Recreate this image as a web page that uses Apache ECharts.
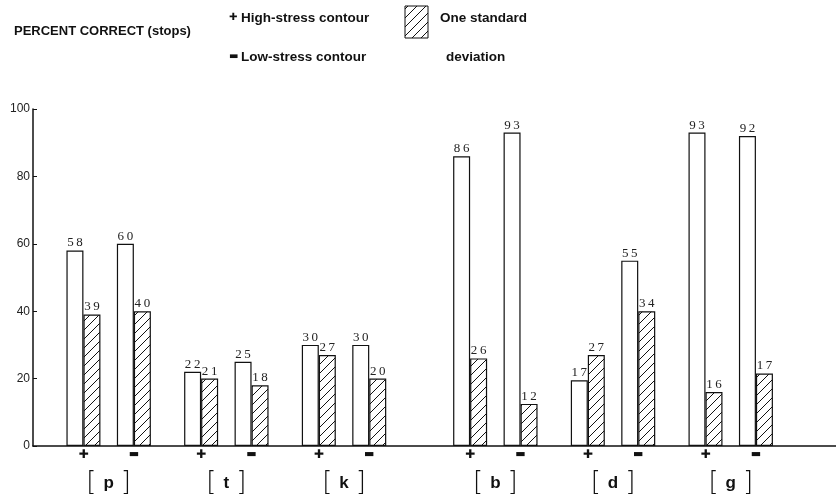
<!DOCTYPE html>
<html>
<head>
<meta charset="utf-8">
<script src="https://cdn.jsdelivr.net/npm/echarts@6/dist/echarts.min.js"></script>
<style>
html, body { margin: 0; padding: 0; background: #fff; }
#chart { width: 836px; height: 494px; }
</style>
</head>
<body>
<div id="chart"></div>
<script>
// bar positions on the x scale (one slot = half a pair of bars)
var stops = ['p', 't', 'k', 'b', 'd', 'g'];
var groupPos = [1.5, 8.5, 15.5, 24.5, 31.5, 38.5];
var plusPos = [0, 7, 14, 23, 30, 37];
var minusPos = [3, 10, 17, 26, 33, 40];
var barPos = [0, 3, 7, 10, 14, 17, 23, 26, 30, 33, 37, 40];

// percent correct (white bars), as drawn and as printed
var correct = [58, 60, 22, 25, 30, 30, 86, 93, 19.5, 55, 93, 92];
var correctText = ['58', '60', '22', '25', '30', '30', '86', '93', '17', '55', '93', '92'];
// one standard deviation (hatched bars), as drawn and as printed
var stdev = [39, 40, 20, 18, 27, 20, 26, 12.5, 27, 40, 16, 21.5];
var stdevText = ['39', '40', '21', '18', '27', '20', '26', '12', '27', '34', '16', '17'];

var yTicks = [0, 20, 40, 60, 80, 100];

// hatch tile
var tile = document.createElement('canvas');
tile.width = 9; tile.height = 9;
var c = tile.getContext('2d');
c.fillStyle = '#fff';
c.fillRect(0, 0, 9, 9);
c.strokeStyle = '#111';
c.lineWidth = 1;
c.beginPath();
c.moveTo(0, 9); c.lineTo(9, 0);
c.moveTo(-1, 1); c.lineTo(1, -1);
c.moveTo(8, 10); c.lineTo(10, 8);
c.stroke();
var hatch = { image: tile, repeat: 'repeat' };

function near(list, v) {
    for (var i = 0; i < list.length; i++) {
        if (Math.abs(list[i] - v) < 0.01) return i;
    }
    return -1;
}

function spaced(s) {
    return s.split('').join('\u2009');
}

var myChart = echarts.init(document.getElementById('chart'));

var boldFont = '"Liberation Sans", Arial, sans-serif';

option = {
    backgroundColor: '#fff',
    animation: false,
    grid: { left: 33, right: -4, top: 109, bottom: 48, containLabel: false, outerBoundsMode: 'none' },
    xAxis: [
        {
            type: 'value',
            min: -3, max: 45, interval: 1,
            position: 'bottom',
            splitLine: { show: false },
            axisTick: { show: false },
            axisLine: { show: true, onZero: false, lineStyle: { color: '#111', width: 1.5 } },
            axisLabel: {
                margin: 2,
                showMinLabel: true, showMaxLabel: true,
                formatter: function (v) {
                    if (near(plusPos, v) >= 0) return '{p|✚}';
                    if (near(minusPos, v) >= 0) return '{m|▬}';
                    return '';
                },
                rich: {
                    p: { fontFamily: '"DejaVu Sans"', fontSize: 12, color: '#111', lineHeight: 14 },
                    m: { fontFamily: '"DejaVu Sans"', fontSize: 11, color: '#111', lineHeight: 12 }
                }
            }
        },
        {
            type: 'value',
            min: -3, max: 45, interval: 0.5,
            position: 'bottom',
            splitLine: { show: false },
            axisTick: { show: false },
            axisLine: { show: false, onZero: false },
            axisLabel: {
                margin: 23,
                formatter: function (v) {
                    var i = near(groupPos, v);
                    if (i < 0) return '';
                    return '{b|[}{l|' + stops[i] + '}{b|]}';
                },
                rich: {
                    b: { fontFamily: '"DejaVu Sans"', fontWeight: 200, fontSize: 26, color: '#111', lineHeight: 28 },
                    l: { fontFamily: boldFont, fontWeight: 'bold', fontSize: 17, color: '#111', padding: [0, 7, 0, 7], lineHeight: 28 }
                }
            }
        }
    ],
    yAxis: {
        type: 'value',
        min: 0, max: 100, interval: 20,
        splitLine: { show: false },
        axisLine: { show: true, onZero: false, lineStyle: { color: '#111', width: 1.5 } },
        axisTick: { show: true, inside: true, length: 4, lineStyle: { color: '#111' } },
        axisLabel: {
            margin: 3,
            color: '#222',
            fontFamily: '"Liberation Sans", Arial, sans-serif',
            fontSize: 12,
            formatter: function (v) { return yTicks.indexOf(v) >= 0 ? String(v) : ''; }
        }
    },
    series: [
        {
            name: 'correct',
            type: 'bar',
            barWidth: 17,
            barGap: '0%',
            data: barPos.map(function (x, i) { return [x, correct[i]]; }),
            itemStyle: { color: '#fff', borderColor: '#111', borderWidth: 1.2 },
            label: {
                show: true, position: 'top', distance: 1,
                fontFamily: '"Liberation Serif", serif', fontSize: 13, color: '#222',
                formatter: function (p) { return spaced(correctText[p.dataIndex]); }
            }
        },
        {
            name: 'stdev',
            type: 'bar',
            barWidth: 17,
            barGap: '0%',
            data: barPos.map(function (x, i) { return [x, stdev[i]]; }),
            itemStyle: { color: hatch, borderColor: '#111', borderWidth: 1.2 },
            label: {
                show: true, position: 'top', distance: 1,
                fontFamily: '"Liberation Serif", serif', fontSize: 13, color: '#222',
                formatter: function (p) { return spaced(stdevText[p.dataIndex]); }
            }
        }
    ],
    graphic: [
        { type: 'text', left: 14, top: 25, style: { text: 'PERCENT CORRECT (stops)', font: 'bold 13px ' + boldFont, fill: '#111' } },
        { type: 'text', left: 229, top: 12, style: { text: '✚', font: '10px "DejaVu Sans"', fill: '#111' } },
        { type: 'text', left: 241, top: 11, style: { text: 'High-stress contour', font: 'bold 13.5px ' + boldFont, fill: '#111' } },
        { type: 'text', left: 229, top: 51, style: { text: '▬', font: '10px "DejaVu Sans"', fill: '#111' } },
        { type: 'text', left: 241, top: 50, style: { text: 'Low-stress contour', font: 'bold 13.5px ' + boldFont, fill: '#111' } },
        { type: 'rect', shape: { x: 405, y: 6, width: 23, height: 32 }, style: { fill: hatch, stroke: '#111', lineWidth: 1 } },
        { type: 'text', left: 440, top: 11, style: { text: 'One standard', font: 'bold 13.5px ' + boldFont, fill: '#111' } },
        { type: 'text', left: 446, top: 50, style: { text: 'deviation', font: 'bold 13.5px ' + boldFont, fill: '#111' } }
    ]
};

myChart.setOption(option);
</script>
</body>
</html>
